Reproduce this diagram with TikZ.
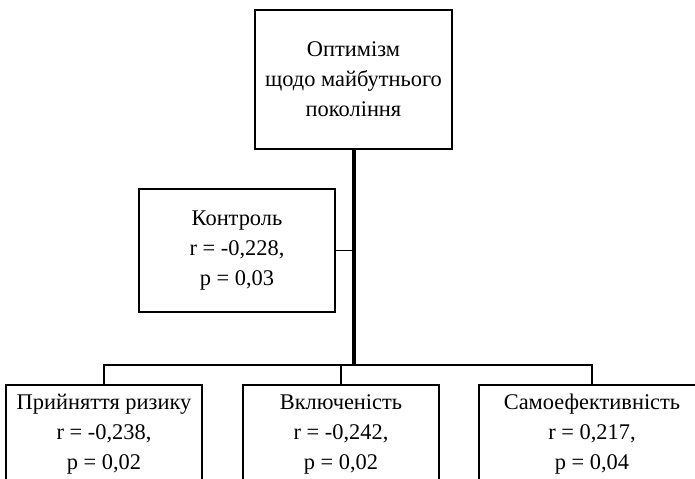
\documentclass[tikz,border=0pt]{standalone}
\usepackage{fontspec}
\setmainfont{Liberation Serif}

\begin{document}
\begin{tikzpicture}[
    x=0.75pt, y=-0.75pt,
    box/.style={rectangle, draw=black, line width=1.3pt, align=center, inner sep=0pt, font=\fontsize{16.8}{22.5}\selectfont},
    topbox/.style={box, minimum width=147.75pt, minimum height=104.25pt},
    sidebox/.style={box, minimum width=147pt, minimum height=92.25pt},
    lowbox/.style={box, minimum width=147pt, minimum height=73.5pt},
    trunk/.style={line width=2.4pt},
    branch/.style={line width=1.3pt}
    ]

    \useasboundingbox (0,0) rectangle (695,478);
    \clip (0,0) rectangle (695,478);

    \node[topbox] (opt) at (353.5,79.5) {Оптимізм\\щодо майбутнього\\покоління};

    \node[sidebox] (ctrl) at (237,250.5) {Контроль\\r = -0,228,\\p = 0,03};

    \node[lowbox] (risk) at (104,434) {Прийняття ризику\\r = -0,238,\\p = 0,02};
    \node[lowbox] (incl) at (341,434) {Включеність\\r = -0,242,\\p = 0,02};
    \node[lowbox, minimum width=169.5pt] (self) at (592,434) {Самоефективність\\r = 0,217,\\p = 0,04};

    \coordinate (bus) at (354,365);

    \draw[trunk] (opt.south -| bus) -- (bus);
    \draw[branch] (ctrl.east) -- (ctrl.east -| bus);
    \draw[branch] (risk.north) |- (bus) -| (self.north);
    \draw[branch] (incl.north) -- (incl.north |- bus);

\end{tikzpicture}
\end{document}
